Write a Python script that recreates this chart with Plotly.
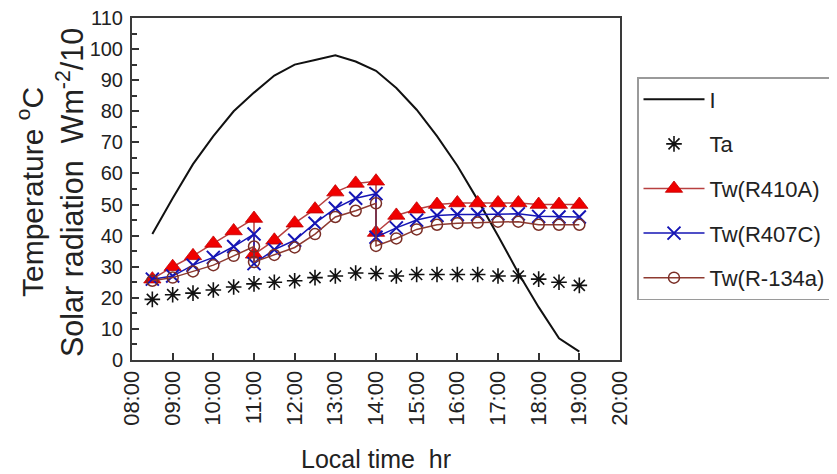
import plotly.graph_objects as go

# ---------------- data ----------------
times = ["08:30", "09:00", "09:30", "10:00", "10:30", "11:00", "11:30", "12:00",
         "12:30", "13:00", "13:30", "14:00", "14:30", "15:00", "15:30", "16:00",
         "16:30", "17:00", "17:30", "18:00", "18:30", "19:00"]
I_vals = [40.5, 52, 63, 72, 80, 86, 91.5, 95, 96.5, 98, 96, 93, 87.5, 80.5,
          72, 62.5, 51.5, 40, 28, 17, 7, 2.7]
Ta_vals = [19.5, 21, 21.5, 22.5, 23.5, 24.5, 25, 25.5, 26.5, 27, 28, 27.8,
           27, 27.5, 27.5, 27.5, 27.5, 27, 27, 26, 25, 24]

tw_times = ["08:30", "09:00", "09:30", "10:00", "10:30", "11:00", "11:00", "11:30",
            "12:00", "12:30", "13:00", "13:30", "14:00", "14:00", "14:30", "15:00",
            "15:30", "16:00", "16:30", "17:00", "17:30", "18:00", "18:30", "19:00"]
Tw_R410A = [26, 30, 33.5, 37.5, 41.5, 45.5, 34, 38.5, 44, 48.5, 54, 56.8, 57.5,
            41, 46.5, 48.5, 50, 50.5, 50.5, 50.5, 50.5, 50, 50, 50]
Tw_R407C = [26, 27, 30.5, 33, 36.5, 40.5, 31, 35.5, 38.5, 44, 48.8, 52, 53.5,
            39.5, 42.5, 45, 46.5, 46.8, 46.8, 47, 47, 46.2, 46, 46]
Tw_R134a = [25.5, 26.5, 28.5, 30.5, 33.5, 36.5, 31.5, 33.8, 36.2, 40.5, 46, 48,
            50.4, 36.7, 39.1, 42, 43.5, 44, 44.2, 44.5, 44.5, 43.5, 43.5, 43.5]

tick_labels = ["08:00", "09:00", "10:00", "11:00", "12:00", "13:00", "14:00",
               "15:00", "16:00", "17:00", "18:00", "19:00", "20:00"]


def to_hours(labels):
    out = []
    for s in labels:
        h, m = s.split(":")
        out.append(int(h) + int(m) / 60.0)
    return out


x_main = to_hours(times)
x_tw = to_hours(tw_times)
tick_vals = to_hours(tick_labels)

FONT = "Liberation Sans, Arial, sans-serif"

fig = go.Figure()
fig.add_trace(go.Scatter(
    x=x_main, y=I_vals, name="I", mode="lines", legendgroup="a",
    line=dict(color="#111111", width=2)))
fig.add_trace(go.Scatter(
    x=x_main, y=Ta_vals, name="Ta", mode="markers", legendgroup="b",
    marker=dict(symbol="asterisk-open", size=13, color="#111111",
                line=dict(color="#111111", width=1.6))))
fig.add_trace(go.Scatter(
    x=x_tw, y=Tw_R410A, name="Tw(R410A)", mode="lines+markers", legendgroup="c",
    line=dict(color="#B84040", width=1.5),
    marker=dict(symbol="triangle-up", size=15, color="#F00000",
                line=dict(color="#C00000", width=0.8))))
fig.add_trace(go.Scatter(
    x=x_tw, y=Tw_R407C, name="Tw(R407C)", mode="lines+markers", legendgroup="d",
    line=dict(color="#1515B5", width=1.5),
    marker=dict(symbol="x-thin-open", size=13, color="#1515B5",
                line=dict(color="#1515B5", width=2))))
fig.add_trace(go.Scatter(
    x=x_tw, y=Tw_R134a, name="Tw(R-134a)", mode="lines+markers", legendgroup="e",
    line=dict(color="#8E3A30", width=1.5),
    marker=dict(symbol="circle-open", size=11, color="#7A2E26",
                line=dict(color="#7A2E26", width=1.5))))

# The page body has an 8px default margin; positions below are page pixels.
OFF = 8
W, H = 837, 474
PL, PR, PT, PB = 132, 620, 18, 360          # plot frame in page pixels
L = PL - OFF
T = PT - OFF
R = W - (PR - OFF)
B = H - (PB - OFF)
pw, ph = PR - PL, PB - PT


def px_x(px):
    return (px - PL) / pw


def px_y(py):
    return (PB - py) / ph


fig.update_layout(
    width=W, height=H,
    margin=dict(l=L, r=R, t=T, b=B, autoexpand=False),
    paper_bgcolor="white", plot_bgcolor="white",
    font=dict(family=FONT, color="#222222"),
    showlegend=True,
    legend=dict(
        x=px_x(637), y=px_y(77), xanchor="left", yanchor="top",
        font=dict(family=FONT, size=22, color="#222222"),
        bordercolor="#9a9a9a", borderwidth=1.5, bgcolor="white",
        traceorder="grouped", tracegroupgap=13, itemwidth=61,
    ),
    xaxis=dict(
        range=[8, 20], tickmode="array", tickvals=tick_vals, ticktext=tick_labels,
        tickangle=-90, ticks="inside", ticklen=7, tickwidth=1.5, tickcolor="#333333",
        tickfont=dict(family=FONT, size=22, color="#222222"),
        ticklabeloverflow="allow",
        showline=True, linecolor="#3a3a3a", linewidth=2, mirror=True,
        showgrid=False, zeroline=False, automargin=False,
    ),
    yaxis=dict(
        range=[0, 110], dtick=10, tick0=0, ticks="inside", ticklen=7, tickwidth=1.5,
        tickcolor="#333333", ticklabelstandoff=3, ticklabeloverflow="allow",
        tickfont=dict(family=FONT, size=20, color="#222222"),
        minor=dict(dtick=5, ticks="inside", ticklen=5, tickwidth=1.5, tickcolor="#333333"),
        showline=True, linecolor="#3a3a3a", linewidth=2, mirror=True,
        showgrid=False, zeroline=False, automargin=False,
    ),
    annotations=[
        dict(text="Temperature <sup>o</sup>C", xref="paper", yref="paper",
             x=px_x(30), y=px_y(192), textangle=-90, showarrow=False,
             xanchor="center", yanchor="middle",
             font=dict(family=FONT, size=30, color="#222222")),
        dict(text="Solar radiation\u00a0 Wm<sup>-2</sup>/10", xref="paper", yref="paper",
             x=px_x(70), y=px_y(193), textangle=-90, showarrow=False,
             xanchor="center", yanchor="middle",
             font=dict(family=FONT, size=30.5, color="#222222")),
        dict(text="Local time\u00a0 hr", xref="paper", yref="paper",
             x=px_x(376), y=px_y(459), showarrow=False,
             xanchor="center", yanchor="middle",
             font=dict(family=FONT, size=25, color="#222222")),
    ],
)

fig.write_html("out.html")
